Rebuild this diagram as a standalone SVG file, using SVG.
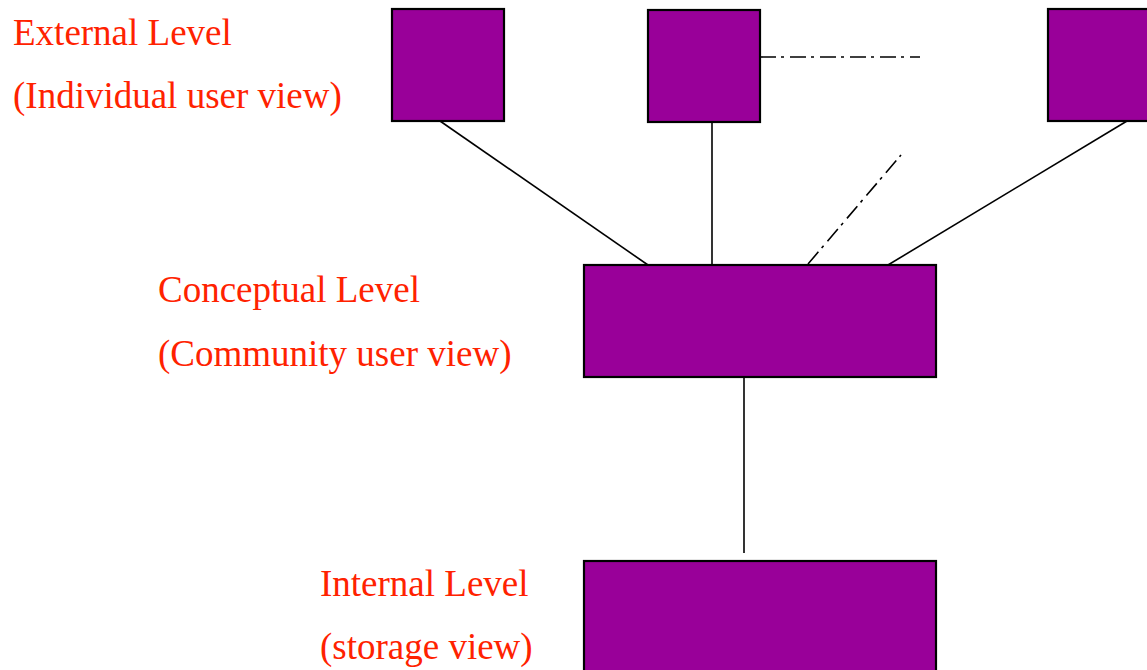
<svg xmlns="http://www.w3.org/2000/svg" width="1147" height="670" viewBox="0 0 1147 670">
  <style>
    .box { fill: #990099; stroke: #000; stroke-width: 2.2; }
    .label { font-family: "Liberation Serif", "Times New Roman", serif; font-size: 37px; fill: #ff2200; }
    .link { stroke: #000; stroke-width: 1.6; fill: none; }
    .dashdot { stroke-dasharray: 16 5 3 6; }
  </style>
  <rect width="1147" height="670" fill="#fff"/>

  <!-- connectors -->
  <g id="connectors">
    <line class="link" x1="440" y1="121" x2="648" y2="265"/>
    <line class="link" x1="712" y1="122" x2="712" y2="265"/>
    <line class="link" x1="1127" y1="121" x2="888" y2="265"/>
    <line class="link dashdot" x1="808" y1="264" x2="901" y2="155"/>
    <line class="link dashdot" x1="760" y1="57" x2="920" y2="57"/>
    <line class="link" x1="744" y1="377" x2="744" y2="553"/>
  </g>

  <!-- external level: individual views -->
  <g id="view1"><rect class="box" x="392" y="9" width="112" height="112"/></g>
  <g id="view2"><rect class="box" x="648" y="10" width="112" height="112"/></g>
  <g id="viewN"><rect class="box" x="1048" y="9" width="112" height="112"/></g>

  <!-- conceptual level -->
  <g id="conceptual"><rect class="box" x="584" y="265" width="352" height="112"/></g>

  <!-- internal level -->
  <g id="internal"><rect class="box" x="584" y="561" width="352" height="120"/></g>

  <!-- level captions -->
  <g id="captions">
    <text class="label" x="13" y="45">External Level</text>
    <text class="label" x="13" y="108">(Individual user view)</text>
    <text class="label" x="158" y="302">Conceptual Level</text>
    <text class="label" x="158" y="366">(Community user view)</text>
    <text class="label" x="320" y="596">Internal Level</text>
    <text class="label" x="320" y="659">(storage view)</text>
  </g>
</svg>
